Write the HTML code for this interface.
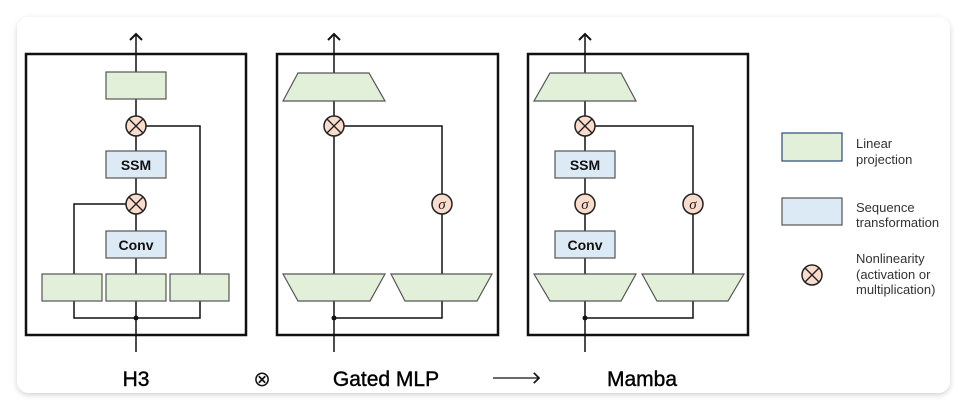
<!DOCTYPE html>
<html><head><meta charset="utf-8"><style>
html,body{margin:0;padding:0;background:#fff;}
svg{display:block;font-family:"Liberation Sans","DejaVu Sans",sans-serif;}
</style></head><body>
<svg width="968" height="411" viewBox="0 0 968 411" xmlns="http://www.w3.org/2000/svg">
<defs>
<filter id="sh" x="-5%" y="-5%" width="110%" height="115%"><feDropShadow dx="0" dy="2" stdDeviation="3" flood-color="#000" flood-opacity="0.18"/></filter>
<marker id="ah" markerWidth="10" markerHeight="10" refX="5" refY="5" orient="auto"><path d="M1,1 L5,5 L1,9" fill="none" stroke="#111" stroke-width="1.3"/></marker>
<g id="mul"><circle r="10" fill="#f9dccb" stroke="#222" stroke-width="1.5"/><path d="M-7,-7L7,7M7,-7L-7,7" stroke="#222" stroke-width="1.4"/></g>
<g id="sig"><circle r="10" fill="#f9dccb" stroke="#222" stroke-width="1.5"/><text x="0" y="5" text-anchor="middle" font-size="15" font-style="italic" font-family="Liberation Serif,serif" fill="#222">σ</text></g>
</defs>
<rect x="0" y="0" width="968" height="411" fill="#fff"/>
<rect x="17" y="17" width="933" height="376" rx="12" fill="#fff" filter="url(#sh)"/>
<g stroke="#111" stroke-width="1.5" fill="none">
<rect x="26" y="54" width="220" height="281" stroke-width="2.5"/>
<line x1="136" y1="352" x2="136" y2="34" marker-end="url(#ah)"/>
<polyline points="146,126 200,126 200,288"/>
<polyline points="126,204 74,204 74,288"/>
<polyline points="74,301 74,318 200,318 200,301"/>
<rect x="277" y="54" width="221" height="281" stroke-width="2.5"/>
<line x1="334" y1="352" x2="334" y2="34" marker-end="url(#ah)"/>
<polyline points="344,126 442,126 442,288"/>
<polyline points="334,318 442,318 442,301"/>
<rect x="528" y="54" width="220" height="281" stroke-width="2.5"/>
<line x1="585" y1="352" x2="585" y2="34" marker-end="url(#ah)"/>
<polyline points="595,126 693,126 693,288"/>
<polyline points="585,318 693,318 693,301"/>
<line x1="493" y1="378" x2="539" y2="378" stroke-width="1.3" marker-end="url(#ah)"/>
</g>
<g stroke="#555" stroke-width="1.2">
<rect x="106" y="72" width="60" height="27" fill="#e2f0d9"/>
<rect x="106" y="151" width="60" height="27" fill="#dceaf6"/>
<rect x="106" y="231" width="60" height="27" fill="#dceaf6"/>
<rect x="42" y="274" width="60" height="27" fill="#e2f0d9"/>
<rect x="106" y="274" width="60" height="27" fill="#e2f0d9"/>
<rect x="170" y="274" width="59" height="27" fill="#e2f0d9"/>
<polygon points="298,73 369,73 385,101 283,101" fill="#e2f0d9"/>
<polygon points="283,274 385,274 370,301 298,301" fill="#e2f0d9"/>
<polygon points="391,274 492,274 477,301 405,301" fill="#e2f0d9"/>
<polygon points="550,73 621,73 636,101 534,101" fill="#e2f0d9"/>
<rect x="555" y="151" width="60" height="27" fill="#dceaf6"/>
<rect x="555" y="231" width="60" height="27" fill="#dceaf6"/>
<polygon points="534,274 636,274 621,301 550,301" fill="#e2f0d9"/>
<polygon points="642,274 744,274 728,301 657,301" fill="#e2f0d9"/>
<rect x="782" y="133" width="60" height="28" fill="#e2f0d9" stroke="#2a4a7a"/>
<rect x="782" y="198" width="60" height="27" fill="#dceaf6"/>
</g>
<circle cx="136" cy="318" r="2.5" fill="#111"/>
<circle cx="334" cy="318" r="2.5" fill="#111"/>
<circle cx="585" cy="318" r="2.5" fill="#111"/>
<use href="#mul" x="136" y="126"/>
<use href="#mul" x="136" y="204"/>
<use href="#mul" x="334" y="126"/>
<use href="#sig" x="442" y="204"/>
<use href="#mul" x="585" y="126"/>
<use href="#sig" x="585" y="204"/>
<use href="#sig" x="693" y="204"/>
<use href="#mul" x="812" y="275"/>
<g font-weight="bold" font-size="14" text-anchor="middle" fill="#111" font-family="Liberation Sans Narrow,Liberation Sans,sans-serif">
<text x="136" y="170">SSM</text><text x="136" y="250">Conv</text>
<text x="585" y="170">SSM</text><text x="585" y="250">Conv</text>
</g>
<g font-size="13" fill="#333">
<text x="856" y="148">Linear</text><text x="856" y="164">projection</text>
<text x="856" y="212">Sequence</text><text x="856" y="227">transformation</text>
<text x="856" y="263">Nonlinearity</text><text x="856" y="279">(activation or</text><text x="856" y="294">multiplication)</text>
</g>
<g font-size="21" fill="#000" text-anchor="middle" stroke="#000" stroke-width="0.4">
<text x="136" y="386">H3</text>
<text x="386" y="386">Gated MLP</text>
<text x="642" y="386">Mamba</text>
</g>
<text x="262" y="386" font-size="21" text-anchor="middle" fill="#111">⊗</text>
</svg>
</body></html>
